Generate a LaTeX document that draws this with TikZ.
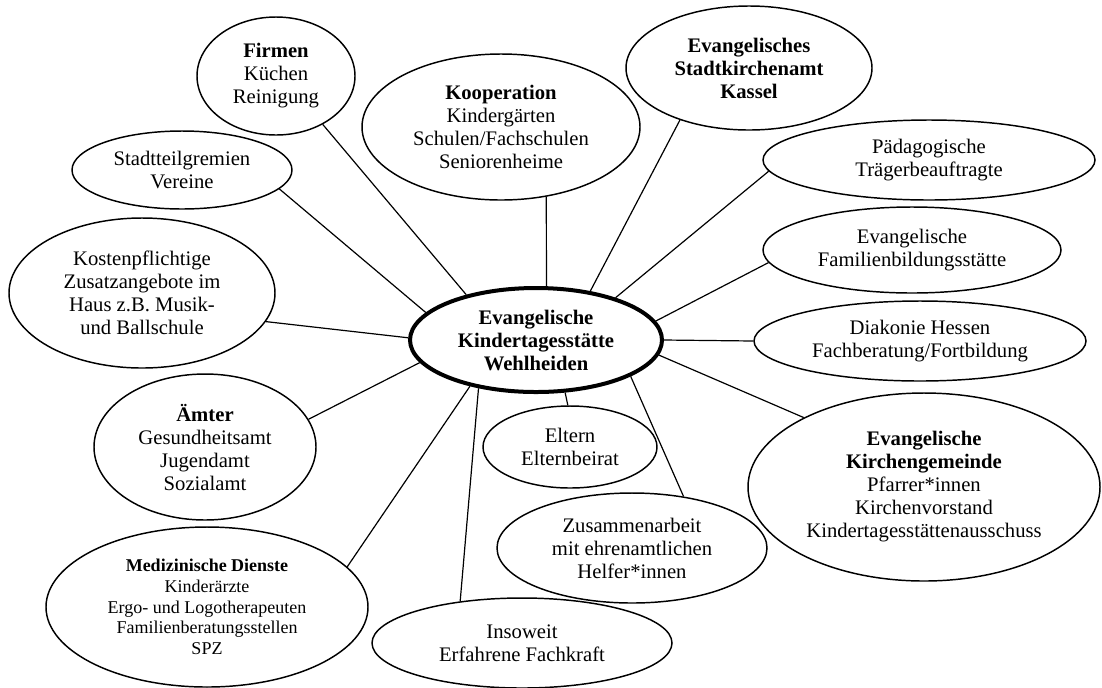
\documentclass[tikz,border=0pt]{standalone}
\usepackage{fontspec}
\setmainfont{Liberation Serif}
\usetikzlibrary{shapes}

\tikzset{
  bubble/.style={ellipse, draw, line width=1.1pt, align=center, inner sep=0pt,
    font=\fontsize{15.5}{17.25}\selectfont},
  link/.style={line width=0.9pt}
}

\begin{document}
\begin{tikzpicture}[x=0.75pt,y=0.75pt,yscale=-1,xscale=1]
\useasboundingbox (0,0) rectangle (1102,687);

% Centre
\node [bubble, line width=3pt, minimum width=189pt, minimum height=78pt] (cen) at (536,340)
  {\textbf{Evangelische}\\\textbf{Kindertagesstätte}\\\textbf{Wehlheiden}};

% Ellipses, left side
\node [bubble, minimum width=118.5pt, minimum height=88.5pt] (firm) at (276,76)
  {\textbf{Firmen}\\Küchen\\Reinigung};
\node [bubble, minimum width=165pt, minimum height=58.5pt] (stadt) at (182,170)
  {Stadtteilgremien\\Vereine};
\node [bubble, minimum width=199.5pt, minimum height=112.5pt] (kost) at (142,293)
  {Kostenpflichtige\\Zusatzangebote im\\Haus z.B. Musik-\\und Ballschule};
\node [bubble, minimum width=166.5pt, minimum height=109.5pt] (aemt) at (205,447)
  {\textbf{Ämter}\\Gesundheitsamt\\Jugendamt\\Sozialamt};
\node [bubble, minimum width=241.5pt, minimum height=120pt,
  font=\fontsize{13.5}{15.5}\selectfont] (med) at (207,607)
  {\textbf{Medizinische Dienste}\\Kinderärzte\\Ergo- und Logotherapeuten\\Familienberatungsstellen\\SPZ};

% Ellipses, top and bottom
\node [bubble, minimum width=208.5pt, minimum height=109.5pt] (koop) at (501,127)
  {\textbf{Kooperation}\\Kindergärten\\Schulen/Fachschulen\\Seniorenheime};
\node [bubble, minimum width=184.5pt, minimum height=93pt] (skamt) at (749,68)
  {\textbf{Evangelisches}\\\textbf{Stadtkirchenamt}\\\textbf{Kassel}};
\node [bubble, minimum width=130.5pt, minimum height=61.5pt] (elt) at (570,447)
  {Eltern\\Elternbeirat};
\node [bubble, minimum width=202.5pt, minimum height=82.5pt] (zus) at (632,548)
  {Zusammenarbeit\\mit ehrenamtlichen\\Helfer*innen};
\node [bubble, minimum width=225pt, minimum height=67.5pt] (ins) at (522,643)
  {Insoweit\\Erfahrene Fachkraft};

% Ellipses, right side
\node [bubble, minimum width=249pt, minimum height=60pt] (paed) at (929,160)
  {Pädagogische\\Trägerbeauftragte};
\node [bubble, minimum width=223.5pt, minimum height=64.5pt] (fbs) at (912,250)
  {Evangelische\\Familienbildungsstätte};
\node [bubble, minimum width=249pt, minimum height=60pt] (diak) at (920,341)
  {Diakonie Hessen\\Fachberatung/Fortbildung};
\node [bubble, minimum width=264pt, minimum height=141pt] (kgem) at (924,487)
  {\textbf{Evangelische}\\\textbf{Kirchengemeinde}\\Pfarrer*innen\\Kirchenvorstand\\Kindertagesstättenausschuss};

%Straight Lines
\draw [link] (cen.147) -- (firm.-46);
\draw [link] (cen.166) -- (stadt.-11);
\draw [link] (cen.179) -- (kost.-13);
\draw [link] (cen.-169) -- (aemt.15);
\draw [link] (cen.-145) -- (med.16);
\draw [link] (cen.-140) -- (ins.146);
\draw [link] (cen.-61) -- (elt.93);
\draw [link] (cen.-21) -- (zus.45);
\draw [link] (cen.-7) -- (kgem.150);
\draw [link] (cen.0) -- (diak.180);
\draw [link] (cen.9) -- (fbs.-175);
\draw [link] (cen.28) -- (paed.-176);
\draw [link] (cen.42) -- (skamt.-143);
\draw [link] (cen.79) -- (koop.-57);

\end{tikzpicture}
\end{document}
